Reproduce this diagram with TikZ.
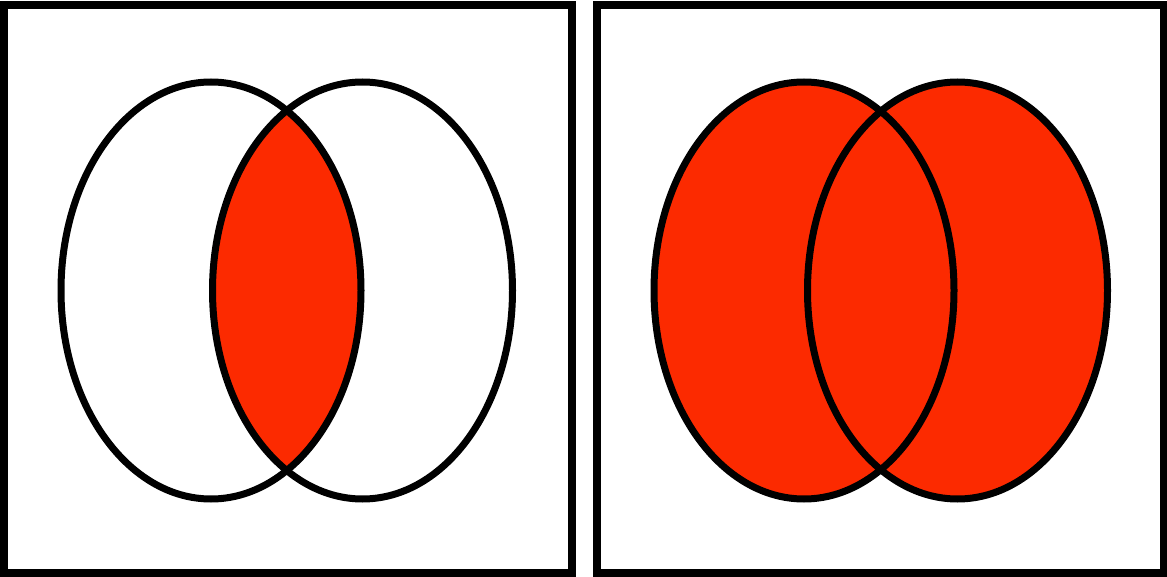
\documentclass[tikz,border=0pt]{standalone}
\usetikzlibrary{positioning}
\definecolor{vennred}{RGB}{252,42,0}

\begin{document}
\begin{tikzpicture}[
        x=1pt, y=-1pt,
        panel/.style={draw=black, line width=8pt},
        setline/.style={draw=black, line width=7pt},
        setfill/.style={fill=vennred}
    ]
    \useasboundingbox (0,0) rectangle (1167,577);
    % panel frames
    \draw[panel] (3.5,5) rectangle (571.5,572.5);
    \draw[panel] (596.5,5) rectangle (1163.5,572.5);
    % set centres
    \coordinate (andA) at (211,290.5);
    \coordinate (andB) at (362.5,290.5);
    \coordinate (orA) at (804,290.5);
    \coordinate (orB) at (957.5,290.5);
    % intersection
    \begin{scope}
        \clip (andA) ellipse [x radius=150, y radius=208.5];
        \fill[setfill] (andB) ellipse [x radius=150, y radius=208.5];
    \end{scope}
    \draw[setline] (andA) ellipse [x radius=150, y radius=208.5];
    \draw[setline] (andB) ellipse [x radius=150, y radius=208.5];
    % union
    \fill[setfill] (orA) ellipse [x radius=150, y radius=208.5];
    \fill[setfill] (orB) ellipse [x radius=150, y radius=208.5];
    \draw[setline] (orA) ellipse [x radius=150, y radius=208.5];
    \draw[setline] (orB) ellipse [x radius=150, y radius=208.5];
\end{tikzpicture}
\end{document}
